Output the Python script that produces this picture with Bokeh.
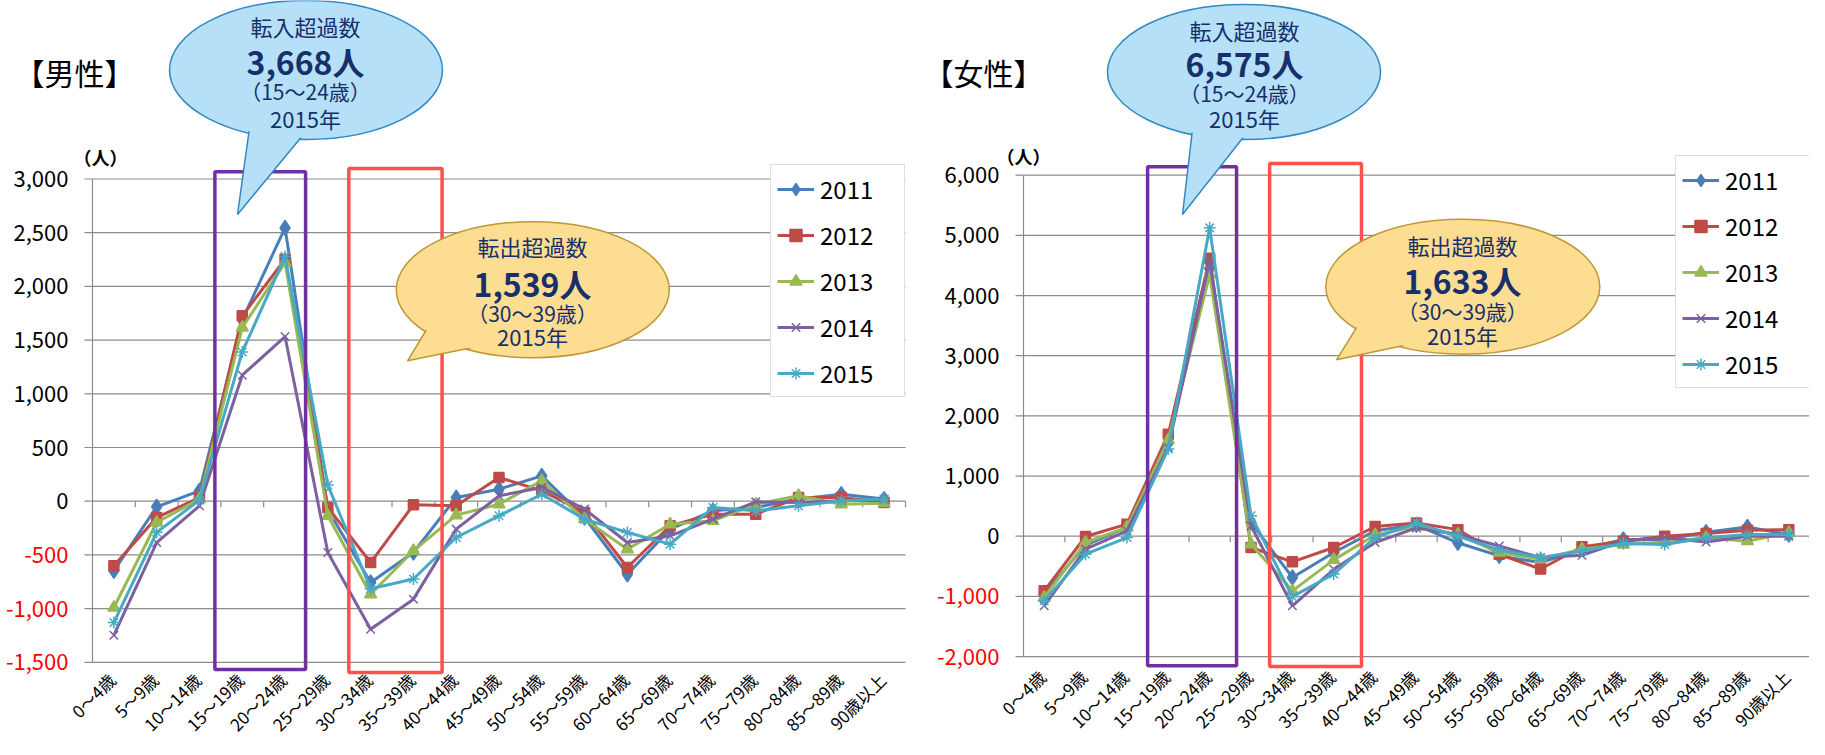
import numpy as np
from bokeh.plotting import figure
from bokeh.layouts import row
from bokeh.models import Range1d, Label, Legend, LegendItem
from bokeh.embed import file_html
from bokeh.resources import INLINE

# ---------------- data ----------------
categories = ["0～4歳", "5～9歳", "10～14歳", "15～19歳", "20～24歳", "25～29歳",
              "30～34歳", "35～39歳", "40～44歳", "45～49歳", "50～54歳", "55～59歳",
              "60～64歳", "65～69歳", "70～74歳", "75～79歳", "80～84歳", "85～89歳",
              "90歳以上"]
years = ["2011", "2012", "2013", "2014", "2015"]

male_2011 = [-648, -52, 97, 1690, 2545, -80, -757, -478, 34, 112, 236, -152, -680, -260, -90, -59, 20, 65, 20]
male_2012 = [-601, -152, 34, 1726, 2253, -59, -571, -34, -43, 221, 97, -105, -617, -229, -121, -121, 34, 34, -12]
male_2013 = [-990, -198, 19, 1617, 2222, -136, -866, -462, -130, -28, 190, -167, -447, -214, -183, -28, 50, -28, -18]
male_2014 = [-1248, -385, -43, 1173, 1533, -478, -1192, -912, -260, 50, 128, -74, -385, -322, -167, -6, -12, 4, 13]
male_2015 = [-1130, -290, 10, 1390, 2278, 150, -815, -724, -338, -136, 65, -167, -291, -400, -59, -90, -43, 4, 20]

female_2011 = [-950, -150, 145, 1560, 4450, 228, -686, -271, 90, 190, -109, -328, -437, -218, -55, -55, 66, 153, 27]
female_2012 = [-908, -5, 200, 1695, 4620, -188, -426, -188, 161, 218, 109, -300, -546, -175, -82, 0, 44, 98, 109]
female_2013 = [-1019, -105, 145, 1600, 4350, -133, -908, -393, 20, 164, 27, -273, -382, -218, -137, -98, -27, -82, 55]
female_2014 = [-1157, -216, 90, 1474, 4580, 173, -1157, -550, -105, 137, 27, -164, -355, -317, -82, -27, -98, 0, 0]
female_2015 = [-1074, -299, -22, 1450, 5125, 339, -1005, -628, -22, 218, 0, -229, -355, -246, -120, -137, -27, 27, 27]

male_yticks = [-1500, -1000, -500, 0, 500, 1000, 1500, 2000, 2500, 3000]
female_yticks = [-2000, -1000, 0, 1000, 2000, 3000, 4000, 5000, 6000]

male_title = "【男性】"
female_title = "【女性】"
unit_label = "（人）"
in_title, out_title = "転入超過数", "転出超過数"
male_in = ["3,668人", "（15～24歳）", "2015年"]
male_out = ["1,539人", "（30～39歳）", "2015年"]
female_in = ["6,575人", "（15～24歳）", "2015年"]
female_out = ["1,633人", "（30～39歳）", "2015年"]

# ---------------- style ----------------
FONT = "Noto Sans CJK JP"
COLORS = ["#4a7ebb", "#be4b48", "#98b954", "#7d60a0", "#46aac5"]
MARKERS = ["diamond", "square", "triangle", "x", "asterisk"]
MSIZE = [15, 10, 12, 12, 12]
GRID = "#8c8c8c"
NAVY = "#17306b"
BLUE_FILL, BLUE_LINE = "#b6e0f8", "#3189c2"
ORG_FILL, ORG_LINE = "#fcdd92", "#bf9736"
PAGE_TOP, PAGE_BOTTOM = 8, 747
N = len(categories)


class Geo:
    """Maps page pixels of the reference layout to data coordinates."""
    def __init__(self, canvas_left, width, axis_px, end_px, zero_py, px_per_unit):
        self.cl, self.w = canvas_left, width
        self.ax, self.end = axis_px, end_px
        self.dx = (end_px - axis_px) / N
        self.zero, self.k = zero_py, px_per_unit

    def x(self, px):
        return -0.5 + (px - self.ax) / self.dx

    def y(self, py):
        return (self.zero - py) / self.k


def txt(p, geo, px, py, text, size, color="black", bold=False, align="center",
        baseline="middle", angle=0.0, x=None, y=None, x_offset=0):
    p.add_layout(Label(
        x=geo.x(px) if x is None else x, y=geo.y(py) if y is None else y,
        text=text, text_font=FONT, text_font_size=f"{size}px", text_color=color,
        text_font_style="bold" if bold else "normal", text_align=align,
        text_baseline=baseline, angle=angle, x_offset=x_offset))


def callout(p, geo, spec, fill, line, head):
    cx, cy = spec["c"]
    ex, ey = geo.x(cx), geo.y(cy)
    w, h = spec["w"], spec["h"]
    p.ellipse(x=[ex], y=[ey], width=[w], height=[h], width_units="screen",
              height_units="screen", fill_color=fill, line_color=line, line_width=1.5)
    tail = spec["tail"]
    p.patch([geo.x(a) for a, b in tail], [geo.y(b) for a, b in tail],
            fill_color=fill, line_color=line, line_width=1.5)
    p.ellipse(x=[ex], y=[ey], width=[w - 3.5], height=[h - 3.5], width_units="screen",
              height_units="screen", fill_color=fill, line_color=None)
    tx, ty = spec["tx"], spec["ty"]
    body = spec["body"]
    txt(p, geo, tx, ty[0], head, 22, NAVY)
    txt(p, geo, tx, ty[1], body[0], 32, NAVY, bold=True)
    txt(p, geo, tx, ty[2], body[1], 21, NAVY)
    txt(p, geo, tx, ty[3], body[2], 22, NAVY)


def make_chart(geo, series, yticks, title, title_px, unit_px, ylab_px, cat_py,
               rects, blue, orange, legend_loc):
    p = figure(width=geo.w, height=PAGE_BOTTOM - PAGE_TOP,
               x_range=Range1d(geo.x(geo.cl), geo.x(geo.cl + geo.w)),
               y_range=Range1d(geo.y(PAGE_BOTTOM), geo.y(PAGE_TOP)),
               x_axis_location=None, y_axis_location=None,
               toolbar_location=None, output_backend="svg",
               min_border_left=0, min_border_right=0,
               min_border_top=0, min_border_bottom=0,
               outline_line_color=None, background_fill_color="white",
               border_fill_color="white")
    p.title.visible = False
    p.xgrid.visible = False
    p.ygrid.visible = False

    # value gridlines (with 8px outside tick on the left) and the value axis line
    yt = np.array(yticks, dtype=float)
    p.segment(x0=np.full(len(yt), geo.x(geo.ax - 8)), y0=yt,
              x1=np.full(len(yt), N - 0.5), y1=yt, line_color=GRID, line_width=1.2)
    p.segment(x0=[-0.5], y0=[yt.min()], x1=[-0.5], y1=[yt.max()],
              line_color=GRID, line_width=1.2)
    # category ticks on the zero line
    b = np.arange(N) + 0.5
    p.segment(x0=b, y0=0, x1=b, y1=-6 / geo.k, line_color=GRID, line_width=1.2)

    idx = np.arange(N)
    items = []
    for yr, vals, c, m, s in zip(years, series, COLORS, MARKERS, MSIZE):
        lr = p.line(idx, vals, line_color=c, line_width=3)
        sr = p.scatter(idx, vals, marker=m, size=s, fill_color=c, line_color=c,
                       line_width=1.5)
        items.append(LegendItem(label=yr, renderers=[lr, sr]))

    # highlight boxes (purple / red)
    (pl, pr, pb, pt), (rl, rr, rb, rt) = rects
    p.quad(left=[pl], right=[pr], bottom=[geo.y(pb)], top=[geo.y(pt)], fill_color=None,
           line_color="#7030a0", line_width=3.5)
    p.quad(left=[rl], right=[rr], bottom=[geo.y(rb)], top=[geo.y(rt)], fill_color=None,
           line_color="#ff5050", line_width=3.5)

    callout(p, geo, blue, BLUE_FILL, BLUE_LINE, in_title)
    callout(p, geo, orange, ORG_FILL, ORG_LINE, out_title)

    legend = Legend(items=items, location=legend_loc, margin=0, padding=6,
                    spacing=11, glyph_width=37, glyph_height=30, label_height=30,
                    label_width=78, label_standoff=6, label_text_font=FONT,
                    label_text_font_size="24px", label_text_color="black",
                    border_line_color="#bfbfbf", border_line_width=1.5,
                    background_fill_color="white", background_fill_alpha=1.0)
    p.add_layout(legend)

    # y tick labels (negative in red)
    for v in yticks:
        txt(p, geo, ylab_px, 0, f"{v:,}", 22, "#ff0000" if v < 0 else "black",
            align="right", y=v)
    # unit label and title
    txt(p, geo, unit_px[0], unit_px[1], unit_label, 18, "black", bold=True)
    txt(p, geo, title_px[0], title_px[1], title, 30, "black", align="left")
    # category labels (rotated 45 degrees)
    for i, c in enumerate(categories):
        txt(p, geo, 0, cat_py, c, 17, "black", align="right", baseline="middle",
            angle=np.pi / 4, x=i, x_offset=-2)
    return p


# ---------------- left chart (男性) ----------------
gL = Geo(8, 922, 100, 913, 508.7, 0.1074)
pL = make_chart(
    gL, [male_2011, male_2012, male_2013, male_2014, male_2015], male_yticks,
    male_title, (22, 79), (108, 164), 76, 684,
    ((2.36, 4.48, 677, 179.3), (5.49, 7.67, 680, 176)),
    dict(c=(313.5, 77.5), w=273, h=139,
         tail=[(259, 121), (245, 222), (320, 131)],
         tx=313, ty=(33, 68, 98, 125), body=male_in),
    dict(c=(540.3, 297.2), w=273, h=136,
         tail=[(444.5, 320), (415, 368.3), (500, 350.9)],
         tx=540, ty=(253, 290, 320, 343), body=male_out),
    (771 - 8 + 7, 747 - 397 - 8))

# ---------------- right chart (女性) ----------------
gR = Geo(930, 887, 1031, 1817, 543.7, 0.060163)
pR = make_chart(
    gR, [female_2011, female_2012, female_2013, female_2014, female_2015], female_yticks,
    female_title, (931, 79), (1031, 163), 1007, 681,
    ((2.50, 4.65, 673.3, 174.3), (5.45, 7.67, 674, 171)),
    dict(c=(1251.5, 79.5), w=273, h=135,
         tail=[(1201.4, 125), (1190, 222), (1266.4, 125)],
         tx=1252, ty=(37, 70, 100, 125), body=female_in),
    dict(c=(1470.3, 294.2), w=274, h=135,
         tail=[(1374.7, 318), (1344, 367.3), (1430, 349)],
         tx=1470, ty=(252, 287, 318, 342), body=female_out),
    (1683 - 930, 747 - 386 - 10))

layout = row(pL, pR)
open("out.html", "w").write(file_html(layout, INLINE))
